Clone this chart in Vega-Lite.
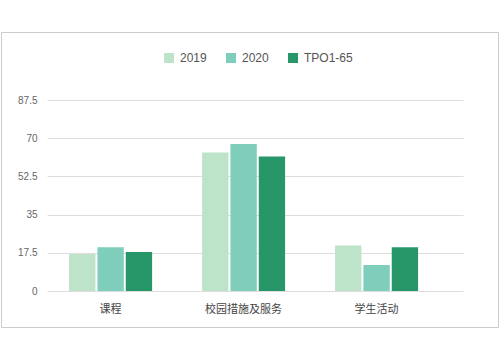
{
  "$schema": "https://vega.github.io/schema/vega-lite/v6.json",
  "autosize": {"type": "none"},
  "padding": {"left": 1, "top": 32, "right": 2, "bottom": 35},
  "width": 497,
  "height": 295,
  "config": {
    "font": "Liberation Sans",
    "view": {"stroke": "#cccccc", "strokeWidth": 1},
    "axis": {"labelFont": "Liberation Sans, Noto Sans CJK SC", "labelColor": "#555555"}
  },
  "data": {
    "values": [
      {"cat": "课程", "series": "2019", "value": 16.9},
      {"cat": "课程", "series": "2020", "value": 20.0},
      {"cat": "课程", "series": "TPO1-65", "value": 17.9},
      {"cat": "校园措施及服务", "series": "2019", "value": 63.5},
      {"cat": "校园措施及服务", "series": "2020", "value": 67.4},
      {"cat": "校园措施及服务", "series": "TPO1-65", "value": 61.6},
      {"cat": "学生活动", "series": "2019", "value": 20.9},
      {"cat": "学生活动", "series": "2020", "value": 11.9},
      {"cat": "学生活动", "series": "TPO1-65", "value": 20.0}
    ]
  },
  "mark": {"type": "bar"},
  "encoding": {
    "x": {
      "field": "cat", "type": "nominal", "sort": null,
      "scale": {"range": [46, 462], "paddingInner": 0.376, "paddingOuter": 0.252, "align": 0.33},
      "axis": {"title": null, "labelAngle": 0, "domain": false, "ticks": false, "grid": false, "offset": -36, "labelPadding": 12, "labelFontSize": 11, "labelColor": "#444444", "labelFont": "Noto Sans CJK SC"}
    },
    "xOffset": {"field": "series", "type": "nominal", "scale": {"paddingInner": 0.07}},
    "y": {
      "field": "value", "type": "quantitative",
      "scale": {"domain": [0, 87.5], "range": [259, 68], "nice": false, "zero": true},
      "axis": {"title": null, "values": [0, 17.5, 35, 52.5, 70, 87.5], "format": ".1~f", "domain": false, "ticks": false, "offset": -38, "labelPadding": 2, "labelFontSize": 10, "labelColor": "#666666", "gridColor": "#dddddd", "gridWidth": 1}
    },
    "fill": {
      "field": "series", "type": "nominal",
      "scale": {"range": ["#bde3c9", "#7fcdbb", "#27976a"]},
      "legend": {
        "title": null, "orient": "none", "legendX": 162, "legendY": 20, "direction": "horizontal",
        "symbolType": "square", "symbolSize": 100, "symbolStrokeWidth": 0,
        "labelFontSize": 12, "labelColor": "#555555",
        "columnPadding": 18, "labelOffset": 5
      }
    }
  }
}
